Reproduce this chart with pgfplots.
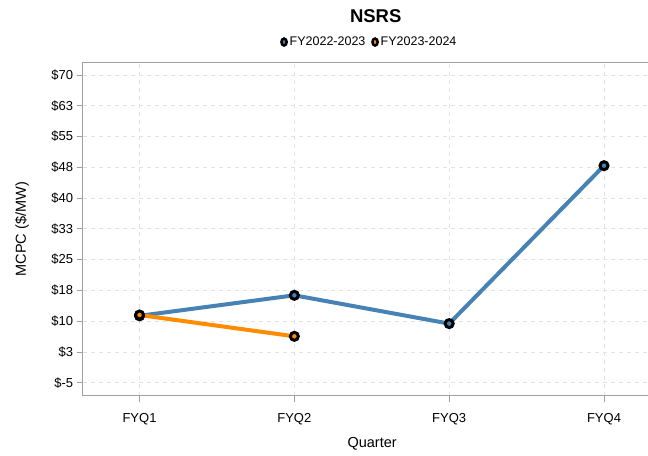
\documentclass[border=0pt]{standalone}
\usepackage{fontspec}
\setmainfont{Liberation Sans}
\usepackage{pgfplots}
\pgfplotsset{compat=1.18}
\definecolor{cblue}{HTML}{4682B4}
\definecolor{corange}{HTML}{FF8C00}
\definecolor{gridc}{HTML}{E2E2E2}
\definecolor{framec}{HTML}{A0A0A0}
\begin{document}
\begin{tikzpicture}
\begin{axis}[
  name=ax, at={(0,0)}, anchor=south west,
  scale only axis, width=565.3pt, height=333pt,
  xmin=-0.367, xmax=3.284, ymin=-8.17, ymax=73.0,
  xtick={0,1,2,3}, xticklabels={FYQ1,FYQ2,FYQ3,FYQ4},
  ytick={-5,2.5,10,17.5,25,32.5,40,47.5,55,62.5,70},
  yticklabels={\$-5,\$3,\$10,\$18,\$25,\$33,\$40,\$48,\$55,\$63,\$70},
  tick align=outside, tick pos=left,
  major tick length=6pt,
  tick style={framec, line width=0.8pt},
  grid=major,
  major grid style={gridc, dash pattern=on 4pt off 4pt, line width=0.8pt},
  axis line style={draw=none},
  ticklabel style={font=\fontsize{13}{15}\selectfont},
  xticklabel style={yshift=-8pt},
  /pgf/number format/assume math mode=true,
  xlabel={Quarter}, ylabel={MCPC (\$/MW)},
  label style={font=\fontsize{14.5}{16}\selectfont},
  xlabel style={at={(axis description cs:0.512,-0.143)}, anchor=center},
  ylabel style={at={(axis description cs:-0.1072,0.5)}, anchor=center, rotate=0},
  legend style={at={(axis description cs:0.509,1.062)}, anchor=center, draw=none,
    font=\fontsize{12.5}{14}\selectfont,
    /tikz/every even column/.append style={column sep=4pt},
    nodes={inner xsep=3pt}},
  legend columns=-1,
]
\addplot[cblue, line width=4pt, mark=*, mark size=4pt,
  mark options={draw=black, fill=cblue, line width=3pt}, forget plot]
  coordinates {(0,11.3) (1,16.3) (2,9.4) (3,47.9)};
\addplot[corange, line width=4pt, mark=*, mark size=4pt,
  mark options={draw=black, fill=corange, line width=3pt}, forget plot]
  coordinates {(0,11.5) (1,6.3)};
\addlegendimage{only marks, mark=*, mark size=3.5pt, mark options={draw=black, fill=cblue, line width=2.5pt, xscale=0.75}}
\addlegendentry{FY2022-2023}
\addlegendimage{only marks, mark=*, mark size=3.5pt, mark options={draw=black, fill=corange, line width=2.5pt, xscale=0.75}}
\addlegendentry{FY2023-2024}
\end{axis}
\draw[framec, line width=0.8pt] (ax.north east) -- (ax.north west) -- (ax.south west) -- (ax.south east);
\node[font=\bfseries\fontsize{18.5}{20}\selectfont] at ([xshift=293pt, yshift=379.7pt]ax.south west) {NSRS};
\pgfresetboundingbox
\path ([xshift=-82.7pt,yshift=-60.3pt]ax.south west) rectangle ([yshift=62.7pt]ax.north east);
\end{tikzpicture}
\end{document}
